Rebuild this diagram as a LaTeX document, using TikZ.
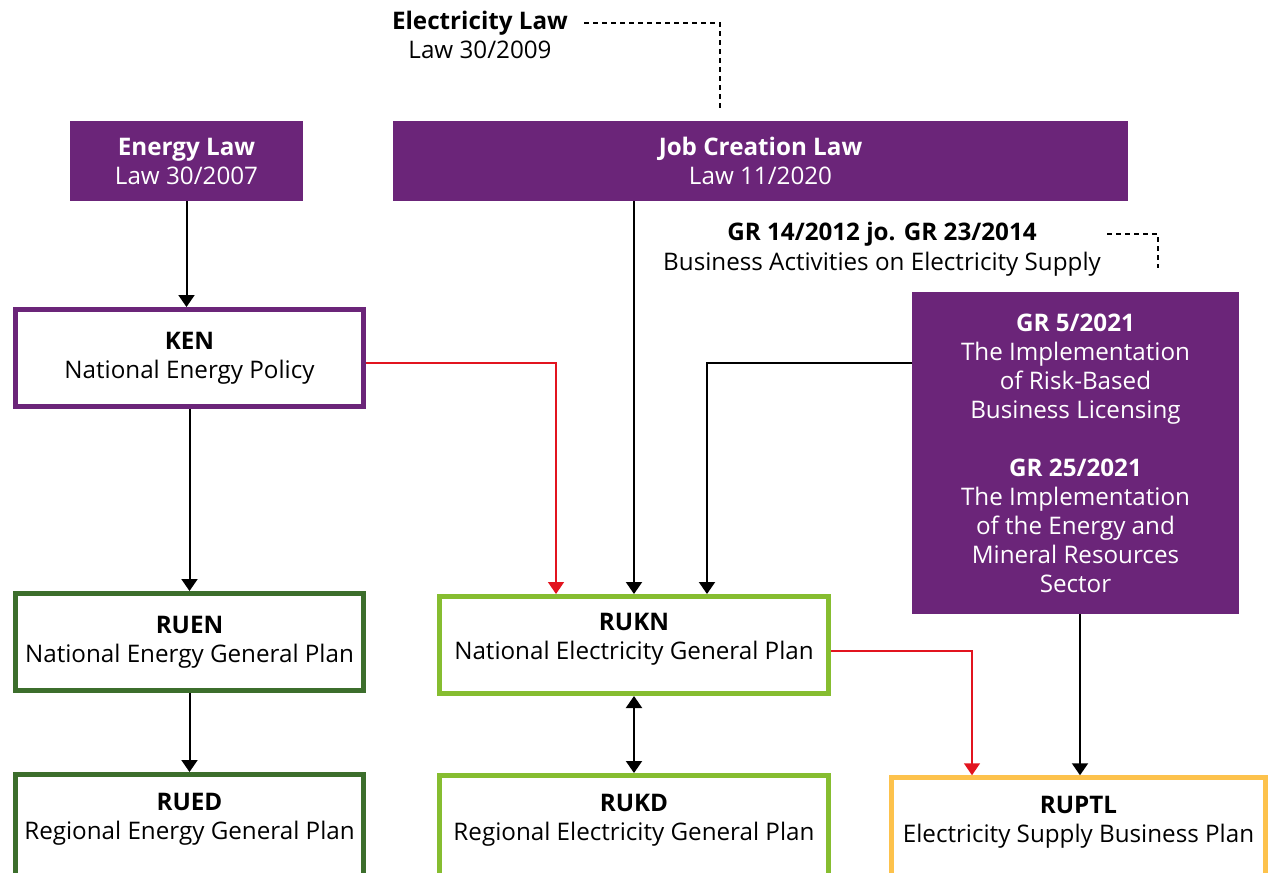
\documentclass[tikz,border=0pt]{standalone}
\usepackage{fontspec}
\setmainfont{Open Sans}
\usetikzlibrary{positioning,arrows.meta}
\definecolor{lawpurple}{HTML}{6B2579}
\definecolor{darkgreen}{HTML}{3C6E2C}
\definecolor{lightgreen}{HTML}{86BD30}
\definecolor{supplyyellow}{HTML}{FDC24C}
\definecolor{linkred}{HTML}{E2141F}
\tikzset{
    law/.style={fill=lawpurple,text=white,align=center,inner sep=0pt,outer sep=0pt},
    plan/.style={draw,line width=2.5pt,fill=white,align=center,inner sep=0pt,minimum height=48.5pt},
    lowplan/.style={plan,minimum height=56pt,text depth=14pt},
    note/.style={align=center,inner sep=3pt},
    flow/.style={-{Triangle[width=8pt,length=6pt]},line width=1pt},
    both/.style={{Triangle[width=8pt,length=6pt]}-{Triangle[width=8pt,length=6pt]},line width=1pt},
    link/.style={flow,draw=linkred,line width=0.75pt},
    reg/.style={dashed,dash pattern=on 2.5pt off 2pt,line width=0.75pt},
}

\begin{document}
\begin{tikzpicture}[x=0.5pt,y=-0.5pt,font=\fontsize{12.1pt}{14.5pt}\selectfont]
    \useasboundingbox (0,0) rectangle (1271,873);
    \clip (0,0) rectangle (1271,873);

    % laws
    \node[law,minimum width=116.5pt,minimum height=40pt] (enlaw) at (186.5,161) {\textbf{Energy Law}\\Law 30/2007};
    \node[law,minimum width=367.5pt,minimum height=40pt] (joblaw) at (760.5,161) {\textbf{Job Creation Law}\\Law 11/2020};
    \node[law,minimum width=163.5pt,minimum height=161pt] (gr) at (1075.5,453)
        {\textbf{GR 5/2021}\\The Implementation\\of Risk-Based\\Business Licensing\\[14.5pt]
         \textbf{GR 25/2021}\\The Implementation\\of the Energy and\\Mineral Resources\\Sector};

    % regulations outside the boxes
    \node[note] (eltitle) at (480,23) {\textbf{Electricity Law}};
    \node[note,below=-3.5pt of eltitle] (elnum) {Law 30/2009};
    \node[note] (grtitle) at (882,234) {\textbf{GR 14/2012 jo. GR 23/2014}};
    \node[note,below=-3.5pt of grtitle] (grsub) {Business Activities on Electricity Supply};
    \coordinate (eldrop) at (720,108);
    \coordinate (grdrop) at (1158,268);

    % plans
    \node[plan,draw=lawpurple,minimum width=174pt] (ken) at (189.5,358) {\textbf{KEN}\\National Energy Policy};
    \node[plan,draw=darkgreen,minimum width=174pt] (ruen) at (189.5,642) {\textbf{RUEN}\\National Energy General Plan};
    \node[lowplan,draw=darkgreen,minimum width=174pt,below=39.5pt of ruen] (rued) {\textbf{RUED}\\Regional Energy General Plan};
    \node[plan,draw=lightgreen,minimum width=194.5pt,text depth=9pt] (rukn) at (634,645) {\textbf{RUKN}\\National Electricity General Plan};
    \node[lowplan,draw=lightgreen,minimum width=194.5pt,below=38.5pt of rukn] (rukd) {\textbf{RUKD}\\Regional Electricity General Plan};
    \node[lowplan,draw=supplyyellow,minimum width=187pt,anchor=north] (ruptl) at (1078.5,775.25) {\textbf{RUPTL}\\Electricity Supply Business Plan};

    \draw[reg,shorten <=5pt] (eltitle.east) -| (eldrop);
    \draw[reg] (grsub.east |- grtitle) -| (grdrop);

    \draw[flow] (enlaw.south) -- (enlaw.south |- ken.north);
    \draw[flow] (ken) -- (ruen);
    \draw[flow] (ruen) -- (rued);
    \draw[flow] (joblaw.south -| rukn.north) -- (rukn.north);
    \draw[flow] (gr.west |- 0,363) -| ([xshift=36.5pt]rukn.north);
    \draw[link] (ken.east |- 0,363) -| ([xshift=-39pt]rukn.north);
    \draw[both] (rukn) -- (rukd);
    \draw[link] (rukn.east |- 0,651) -| ([xshift=-53.25pt]ruptl.north);
    \draw[flow] (gr.south -| 1080,0) -- (ruptl.north -| 1080,0);
\end{tikzpicture}
\end{document}
